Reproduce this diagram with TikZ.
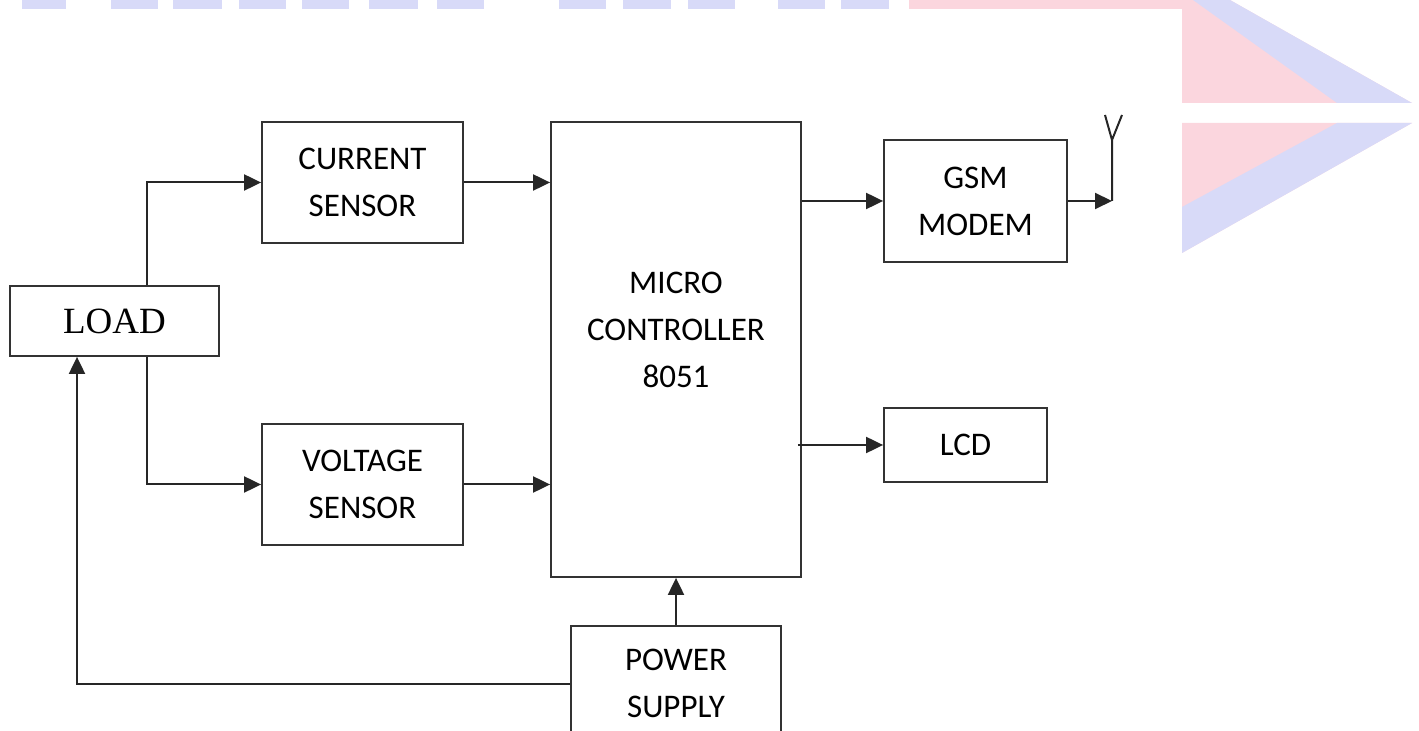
\documentclass[tikz,border=0pt]{standalone}
\usepackage{fontspec}
\setmainfont{Carlito}
\newfontfamily\loadfont{Liberation Serif}
\usetikzlibrary{arrows.meta,positioning}

\begin{document}
\begin{tikzpicture}[x=0.5pt,y=-0.5pt,>=Latex,
  box/.style={draw=black!80,line width=.9pt,align=center,inner sep=0pt,font=\fontsize{16.5}{23.5}\selectfont},
  lbl/.style={align=center,inner sep=0pt,font=\fontsize{16.5}{23.5}\selectfont},
  flow/.style={-{Triangle[length=8.5pt,width=8pt]},line width=1pt,draw=black!85},
  wire/.style={line width=1pt,draw=black!85}]
\definecolor{wmpink}{RGB}{251,214,222}
\definecolor{wmblue}{RGB}{216,218,248}
\clip (0,0) rectangle (1419,731);
% watermark in the background
\foreach \a/\b in {22/66,111/158,173/222,239/286,302/349,369/418,437/484,559/606,623/671,688/735,778/825,841/889}
  \fill[wmblue] (\a,0) rectangle (\b,9);
\fill[wmpink] (909,0) -- (1230,0) -- (1412,103) -- (1182,103) -- (1182,9) -- (909,9) -- cycle;
\fill[wmblue] (1193,0) -- (1230,0) -- (1412,103) -- (1337,103) -- cycle;
\fill[wmpink] (1182,123) -- (1412,123) -- (1182,253) -- cycle;
\fill[wmblue] (1182,207) -- (1337,123) -- (1412,123) -- (1182,253) -- cycle;
% blocks
\node[box,minimum width=104.5pt,minimum height=35pt,font=\loadfont\fontsize{18.5}{22}\selectfont] (load) at (114.5,321) {LOAD};
\node[box,minimum width=100.5pt,minimum height=60.5pt] (cur) at (362.5,182.5) {CURRENT\\SENSOR};
\node[box,minimum width=100.5pt,minimum height=60.5pt] (vol) at (362.5,484.5) {VOLTAGE\\SENSOR};
\node[box,minimum width=125pt,minimum height=227.5pt] (mcu) at (676,349.5) {};
\node[lbl] (mcutxt) at (676,330) {MICRO\\CONTROLLER\\8051};
\node[box,minimum width=91.5pt,minimum height=61pt] (gsm) at (975.5,201) {GSM\\MODEM};
\node[box,minimum width=81.5pt,minimum height=37pt] (lcd) at (965.5,445) {LCD};
\node[box,minimum width=105pt,minimum height=57.5pt] (psu) at (676,683.5) {POWER\\SUPPLY};
\coordinate (split) at (147,321);
\coordinate (back) at (77,681);
\coordinate (ant) at (1112,201);
\coordinate (anttop) at (1112,140);
% connections
\draw[flow] (load.north -| split) |- (cur.west);
\draw[flow] (load.south -| split) |- (vol.west);
\draw[flow] (cur.east) -- (cur.east -| mcu.west);
\draw[flow] (vol.east) -- (vol.east -| mcu.west);
\draw[flow] (mcu.east |- gsm.west) -- (gsm.west);
\draw[flow] ([xshift=-2pt]mcu.east |- lcd.west) -- (lcd.west);
\draw[flow] (psu.north) -- (mcu.south);
\draw[flow] (psu.west) -| (load.south -| back);
\draw[flow] (gsm.east) -- (ant);
\draw[wire] (ant) -- (anttop) -- ++(-7,-25) (anttop) -- ++(10,-25);
\end{tikzpicture}
\end{document}
